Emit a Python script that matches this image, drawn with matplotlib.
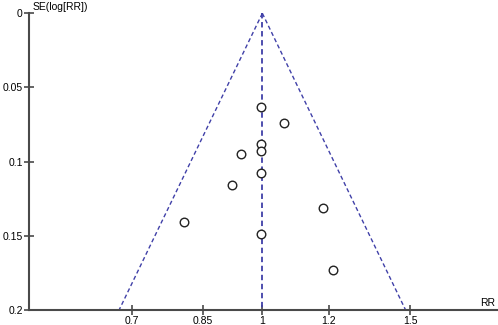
import numpy as np
import matplotlib.pyplot as plt

plt.rcParams['font.family'] = ['Liberation Sans', 'DejaVu Sans']

# study estimates
rr = [0.997, 1.060, 0.997, 0.997, 0.943, 0.997, 0.919, 1.180, 0.807, 0.997, 1.213]
se = [0.063, 0.074, 0.0884, 0.0927, 0.0947, 0.108, 0.116, 0.1316, 0.1406, 0.149, 0.1734]
pooled_rr = 1.0
se_max = 0.2
x_ticks = [0.7, 0.85, 1, 1.2, 1.5]
x_tick_labels = ["0.7", "0.85", "1", "1.2", "1.5"]
y_ticks = [0, 0.05, 0.1, 0.15, 0.2]
y_tick_labels = ["0", "0.05", "0.1", "0.15", "0.2"]

axis_col = "#4a4a4a"
dash_col = "#4040a8"

fig = plt.figure(figsize=(4.98, 3.25), dpi=100)
ax = fig.add_axes([29 / 498, 1 - 309.7 / 325, 1 - 29 / 498, (309.7 - 13.3) / 325])

# funnel (95% limits) and pooled line
se_line = np.array([0, se_max])
ax.plot(pooled_rr * np.exp(-1.96 * se_line), se_line, ls=(0, (3, 2)), color=dash_col, lw=1.0)
ax.plot(pooled_rr * np.exp(1.96 * se_line), se_line, ls=(0, (3, 2)), color=dash_col, lw=1.0)
ax.plot([pooled_rr, pooled_rr], se_line, ls=(0, (3, 2)), color=dash_col, lw=1.3)

ax.scatter(rr, se, s=38, facecolors="white", edgecolors="#222222", linewidths=1.0, zorder=3)

ax.set_xscale("log")
ax.set_xlim(0.5277, 1.907)
ax.set_ylim(se_max, 0)
ax.minorticks_off()
ax.set_xticks(x_ticks)
ax.set_xticklabels(x_tick_labels)
ax.set_yticks(y_ticks)
ax.set_yticklabels(y_tick_labels)

for s in ["top", "right"]:
    ax.spines[s].set_visible(False)
for s in ["left", "bottom"]:
    ax.spines[s].set_color(axis_col)
    ax.spines[s].set_linewidth(1.5)
ax.tick_params(direction="inout", length=7, width=1.2, color=axis_col, labelsize=7.5, pad=1)

fig.text(33 / 498, 1 - 7.5 / 325, "SE(log[RR])", fontsize=7.5, ha="left", va="center")
fig.text(488 / 498, 1 - 303.5 / 325, "RR", fontsize=7.5, ha="center", va="center")

plt.savefig("out.png")
